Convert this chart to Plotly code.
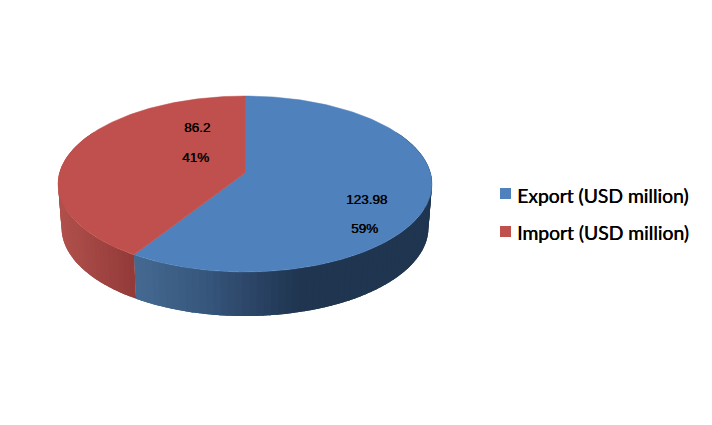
import numpy as np
import plotly.graph_objects as go

categories = ["Export (USD million)", "Import (USD million)"]
values = [123.98, 86.2]
percent_labels = ["59%", "41%"]

top_colors = ["#4F81BD", "#C0504D"]
side_x_stops = [[136, 200, 250, 300, 432], [60, 135]]
side_colors = [
    [(68, 105, 145), (56, 88, 126), (44, 70, 104), (31, 53, 80), (31, 53, 80)],
    [(176, 80, 76), (146, 58, 56)],
]

W, H = 712, 425
BODY = 8  # the page's own margin around the figure
K = 0.125
TOP = dict(cx=245.0, cy=173.0, rx=185.5, ry=86.6)
BOT = dict(cx=245.0, cy=216.6, rx=182.0, ry=87.0)


def project(t_deg, e):
    t = np.radians(t_deg)
    u, v = np.sin(t), np.cos(t)
    d = 1 + K * v
    return e["cx"] + e["rx"] * u / d, e["cy"] - e["ry"] * v / d


fracs = np.array(values) / sum(values)
edges = np.concatenate([[0], np.cumsum(fracs)]) * 360

fig = go.Figure()

# Sides of the pie, as overlapping shaded strips
for i in range(len(values)):
    a, b = max(edges[i], 60), min(edges[i + 1], 300)
    steps = np.linspace(a, b, int((b - a) / 2.0) + 2)
    stops = np.array(side_colors[i], dtype=float)
    for t0, t1 in zip(steps[:-1], steps[1:]):
        ts = np.linspace(t0, min(t1 + 2.5, b), 4)
        x1, y1 = project(ts, TOP)
        x2, y2 = project(ts[::-1], BOT)
        xm = float(project((t0 + t1) / 2, TOP)[0])
        rgb = [np.interp(xm, side_x_stops[i], stops[:, c]) for c in range(3)]
        col = "rgb(%d,%d,%d)" % tuple(int(round(c)) for c in rgb)
        fig.add_trace(go.Scatter(
            x=np.concatenate([x1, x2]), y=np.concatenate([y1, y2]),
            mode="none", fill="toself", fillcolor=col,
            hoverinfo="skip", showlegend=False))

# Top faces
for i, name in enumerate(categories):
    ts = np.linspace(edges[i], edges[i + 1], 200)
    x, y = project(ts, TOP)
    x = np.concatenate([[TOP["cx"]], x, [TOP["cx"]]])
    y = np.concatenate([[TOP["cy"]], y, [TOP["cy"]]])
    fig.add_trace(go.Scatter(
        x=x, y=y, mode="lines", fill="toself", fillcolor=top_colors[i],
        line=dict(color=top_colors[i], width=0.5),
        name=name, showlegend=False,
        hovertemplate=f"{name}: {values[i]}<extra></extra>"))

# Key beside the pie
key_marker_x = 505.5
key_text_x = 514.5
key_y = [193.5, 231.5]
key_text_y = [195, 232]
for i, name in enumerate(categories):
    fig.add_trace(go.Scatter(
        x=[key_marker_x], y=[key_y[i]], mode="markers", name=name, showlegend=False,
        hoverinfo="skip",
        marker=dict(symbol="square", size=11, color=top_colors[i])))
    fig.add_annotation(x=key_text_x, y=key_text_y[i], text=name, showarrow=False,
                       xanchor="left",
                       font=dict(family="Lato", size=19.3, color="#000",
                                 shadow="0.4px 0 0 #000"))

label_pos = [((366, 199), (364.5, 228)), ((196.5, 127), (195.5, 157))]
for i in range(len(values)):
    for text, (px, py) in zip((str(values[i]), percent_labels[i]), label_pos[i]):
        fig.add_annotation(x=px, y=py, text=text, showarrow=False,
                           font=dict(family="Liberation Sans", size=13.5, color="#000",
                                     shadow="0.5px 0 0 #000"))

fig.update_layout(
    width=W - BODY, height=H - BODY, margin=dict(l=0, r=0, t=0, b=0),
    paper_bgcolor="white", plot_bgcolor="white", showlegend=False,
    xaxis=dict(range=[BODY, W], visible=False, fixedrange=True),
    yaxis=dict(range=[H, BODY], visible=False, fixedrange=True),
)
fig.write_html("out.html")
